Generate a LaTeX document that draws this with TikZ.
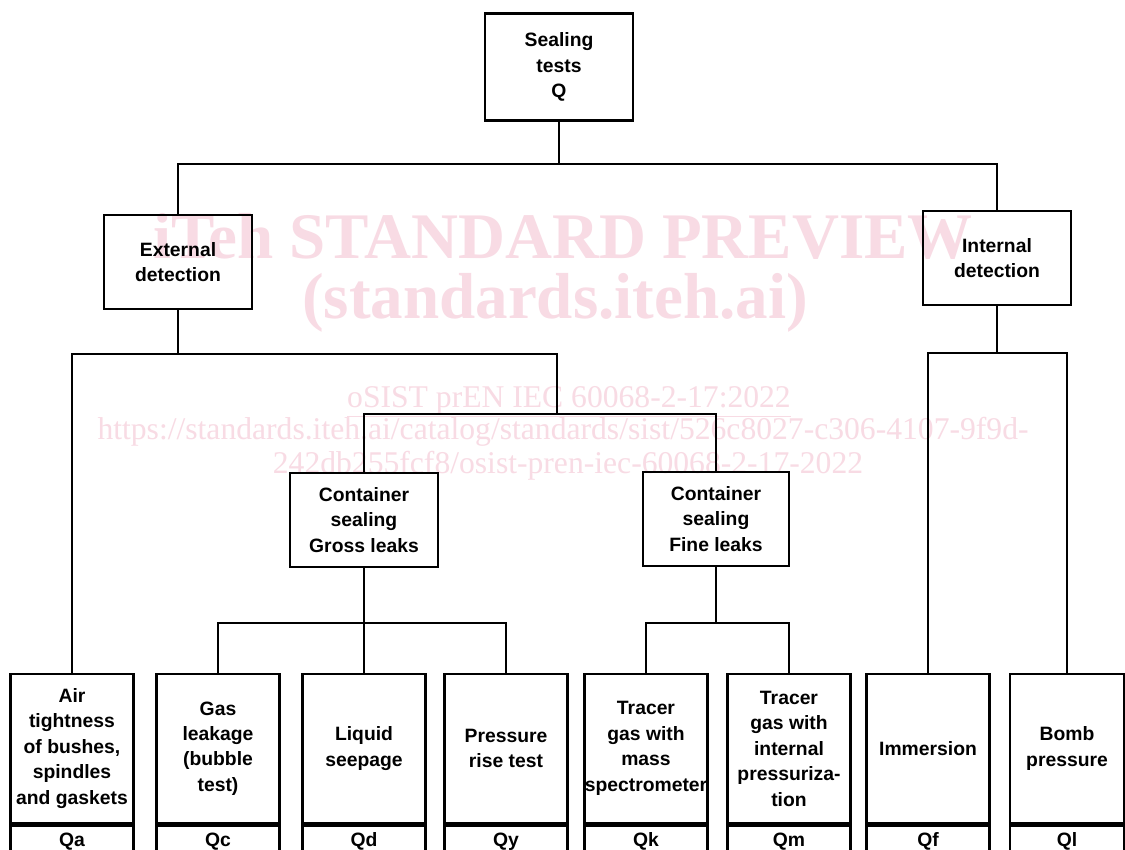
\documentclass[tikz,border=0pt]{standalone}
\usepackage{fontspec}
\setmainfont{Liberation Sans}
\newfontfamily\wmfont{Liberation Serif}
\definecolor{wm}{RGB}{248,219,228}
\begin{document}
\begin{tikzpicture}[x=0.02cm,y=-0.02cm,
  box/.style={draw, line width=1.6pt, align=center, font=\fontsize{11}{14.5}\selectfont\bfseries, inner sep=0pt},
  mid/.style={box, minimum width=2.96cm, minimum height=1.88cm},
  leaf/.style={box, minimum width=2.46cm, minimum height=2.98cm},
  code/.style={box, minimum width=2.46cm, minimum height=0.64cm, anchor=north},
  conn/.style={line width=1.1pt},
  wmbig/.style={text=wm, inner sep=0pt, anchor=base, font=\wmfont\bfseries\fontsize{37}{40}\selectfont},
  wmsmall/.style={text=wm, inner sep=0pt, anchor=base, font=\wmfont\fontsize{18}{20}\selectfont}
]
\clip (0,0) rectangle (1125,849);
\fill[white] (0,0) rectangle (1125,849);
% watermark
\node[wmbig] (w1) at (563,258) {iTeh STANDARD PREVIEW};
\node[wmbig] (w2) at (555,318) {(standards.iteh.ai)};
\node[wmsmall] (w3) at (569,407) {\underline{oSIST prEN IEC 60068-2-17:2022}};
\node[wmsmall] (w4) at (563,439) {https://standards.iteh.ai/catalog/standards/sist/526c8027-c306-4107-9f9d-};
\node[wmsmall] (w5) at (568,473) {242db255fcf8/osist-pren-iec-60068-2-17-2022};
% upper nodes
\node[box, minimum width=2.96cm, minimum height=2.14cm] (top) at (559,67) {Sealing\\tests\\Q};
\node[mid] (ext) at (178,262) {External\\detection};
\node[mid] (int) at (997,258) {Internal\\detection};
\node[mid] (gross) at (364,520) {Container\\sealing\\Gross leaks};
\node[mid, minimum width=2.92cm] (fine) at (716,519) {Container\\sealing\\Fine leaks};
% leaves
\node[leaf] (qa) at (72,748.5) {Air\\tightness\\of bushes,\\spindles\\and gaskets};
\node[leaf] (qc) at (218,748.5) {Gas\\leakage\\(bubble\\test)};
\node[leaf] (qd) at (364,748.5) {Liquid\\seepage};
\node[leaf] (qy) at (506,748.5) {Pressure\\rise test};
\node[leaf] (qk) at (646,748.5) {Tracer\\gas with\\mass\\spectrometer};
\node[leaf] (qm) at (789,748.5) {Tracer\\gas with\\internal\\pressuriza-\\tion};
\node[leaf] (qf) at (928,748.5) {Immersion};
\node[leaf, minimum width=2.28cm] (ql) at (1067,748.5) {Bomb\\pressure};
\foreach \n/\t in {qa/Qa,qc/Qc,qd/Qd,qy/Qy,qk/Qk,qm/Qm,qf/Qf}
  \node[code] (\n c) at (\n.south) {\t};
\node[code, minimum width=2.28cm] (qlc) at (ql.south) {Ql};
% connectors
\coordinate (j0) at (559,164);
\coordinate (j1) at (557,354);
\coordinate (j2) at (557,414);
\coordinate (j3) at (997,353);
\coordinate (j4) at (364,623);
\coordinate (j5) at (716,623);
\draw[conn] (top.south) -- (j0);
\draw[conn] (ext.north) |- (j0) -| (int.north);
\draw[conn] (ext.south) -- (ext.south |- j1);
\draw[conn] (qa.north) |- (j1) -- (j2);
\draw[conn] (gross.north) |- (j2) -| (fine.north);
\draw[conn] (int.south) -- (j3);
\draw[conn] (qf.north) |- (j3) -| (ql.north);
\draw[conn] (gross.south) -- (j4);
\draw[conn] (qc.north) |- (j4) -| (qy.north);
\draw[conn] (j4) -- (qd.north);
\draw[conn] (fine.south) -- (j5);
\draw[conn] (qk.north) |- (j5) -| (qm.north);
\end{tikzpicture}
\end{document}
